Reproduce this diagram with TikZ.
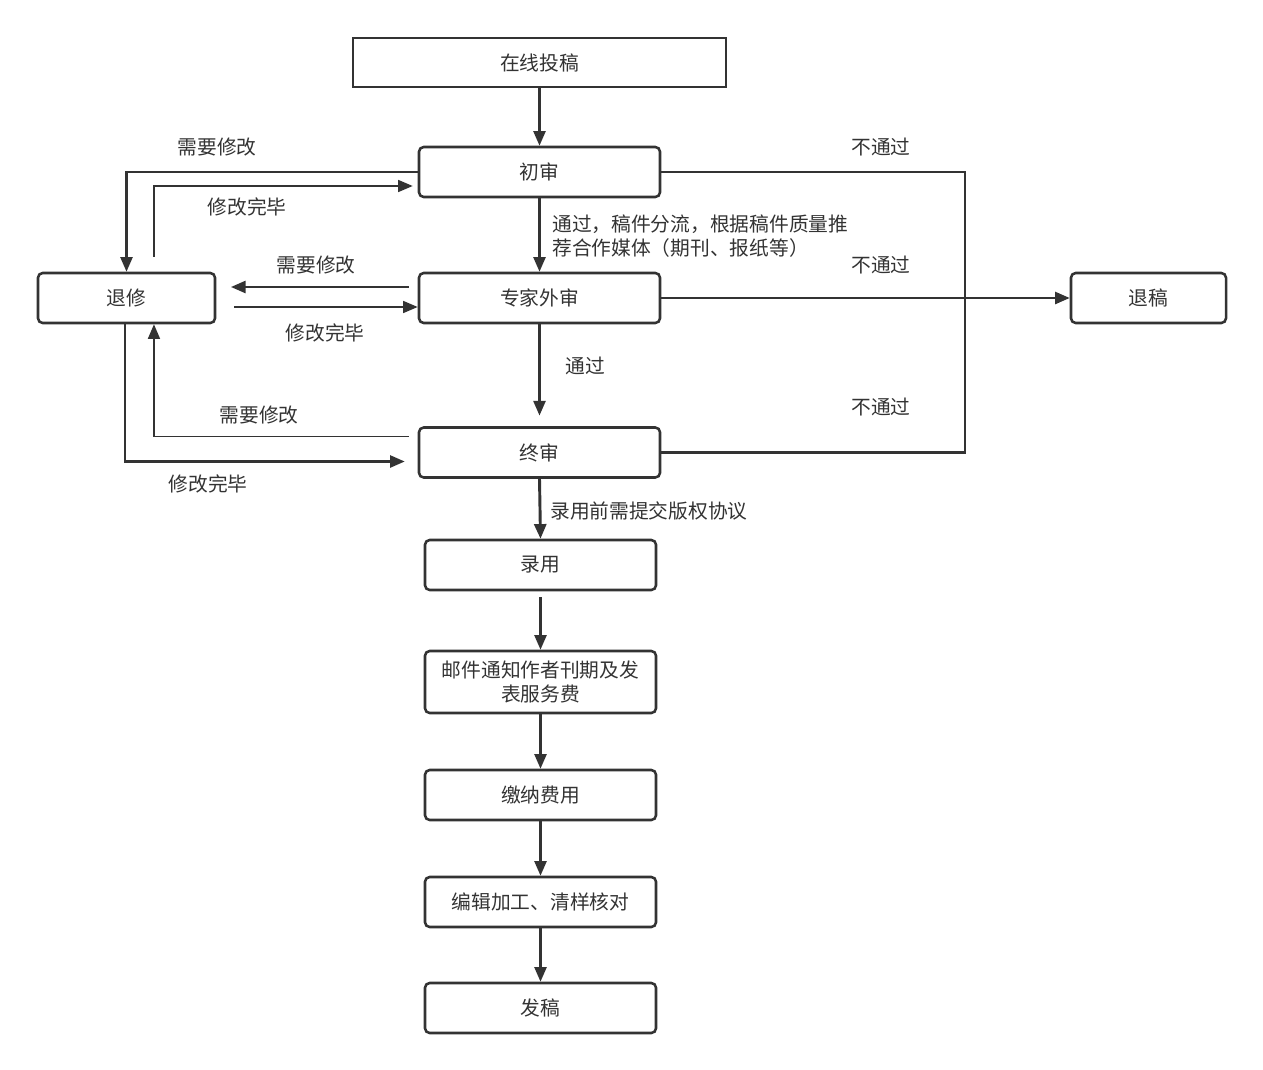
\documentclass[tikz,border=0pt]{standalone}
\usepackage{fontspec}
\setmainfont{Noto Sans CJK SC}
\usetikzlibrary{arrows.meta}
\definecolor{linegray}{HTML}{333333}
\tikzset{
  box/.style={draw=linegray, line width=1.9pt, rounded corners=3.5pt, minimum height=37.5pt, align=center, inner sep=0pt, text=linegray},
  flow/.style={draw=linegray, line width=1.9pt, -{Triangle[length=11pt,width=9pt]}},
  thinflow/.style={flow, line width=1.3pt},
  lab/.style={text=linegray, inner sep=0pt}
}

\begin{document}
\begin{tikzpicture}[x=0.75pt,y=-0.75pt, font=\fontsize{14.8}{18}\selectfont]
\useasboundingbox (0,0) rectangle (1263,1070);
% boxes
\node[box, rounded corners=0pt, minimum width=279.75pt, minimum height=36.75pt] (tougao) at (539.5,62.5) {在线投稿};
\node[box, minimum width=180.75pt] (chushen) at (539.5,172) {初审};
\node[box, minimum width=180.75pt] (zhuanjia) at (539.5,298) {专家外审};
\node[box, minimum width=180.75pt] (zhongshen) at (539.5,452.5) {终审};
\node[box, minimum width=132.75pt] (tuixiu) at (126.5,298) {退修};
\node[box, minimum width=116.25pt] (tuigao) at (1148.5,298) {退稿};
\node[box, minimum width=173.25pt] (luyong) at (540.5,565) {录用};
\node[box, minimum width=173.25pt, minimum height=46.5pt] (tongzhi) at (540.5,682) {邮件通知作者刊期及发\\表服务费};
\node[box, minimum width=173.25pt] (jiaona) at (540.5,795) {缴纳费用};
\node[box, minimum width=173.25pt] (bianji) at (540.5,902) {编辑加工、清样核对};
\node[box, minimum width=173.25pt] (fagao) at (540.5,1008) {发稿};
\coordinate (reject) at (965,172);

% main flow
\draw[flow] (tougao.south) -- (chushen.north);
\draw[flow] (chushen.south) -- (zhuanjia.north);
\draw[flow, shorten >=8pt] (zhuanjia.south) -- (zhongshen.north);
\draw[flow, line width=2.2pt] (zhongshen.south) -- (luyong.north);
\draw[flow, shorten <=4.5pt] (luyong.south) -- (tongzhi.north);
\draw[flow] (tongzhi.south) -- (jiaona.north);
\draw[flow] (jiaona.south) -- (bianji.north);
\draw[flow] (bianji.south) -- (fagao.north);

% revisions
\draw[flow] (chushen.west) -| (tuixiu.north);
\draw[thinflow, shorten <=11.25pt, shorten >=3.75pt] ([xshift=20.6pt]tuixiu.north) |- ([yshift=-10.5pt]chushen.west);
\draw[flow, shorten <=6.75pt, shorten >=11pt] ([yshift=8.25pt]zhuanjia.west) -- ([yshift=8.25pt]tuixiu.east);
\draw[thinflow, shorten <=13.5pt] ([yshift=-6.75pt]tuixiu.east) -- ([yshift=-6.75pt]zhuanjia.west);
\draw[thinflow, shorten <=6.75pt] ([yshift=12pt]zhongshen.west) -| ([xshift=20.6pt]tuixiu.south);
\draw[flow, shorten >=9.75pt] ([xshift=-1.1pt]tuixiu.south) |- ([yshift=-6.75pt]zhongshen.west);

% rejections
\draw[draw=linegray, line width=1.9pt] (chushen.east) -- (reject) |- (zhongshen.east);
\draw[flow] (zhuanjia.east) -- (tuigao.west);

% labels
\node[lab] at (217,147) {需要修改};
\node[lab] at (247,207) {修改完毕};
\node[lab] at (316,265) {需要修改};
\node[lab] at (325,333) {修改完毕};
\node[lab] at (259,415) {需要修改};
\node[lab] at (208,484) {修改完毕};
\node[lab] at (881,147) {不通过};
\node[lab] at (881,265) {不通过};
\node[lab] at (881,407) {不通过};
\node[lab] at (585,366) {通过};
\node[lab, anchor=west, align=left] at (552,236) {通过，稿件分流，根据稿件质量推\\荐合作媒体（期刊、报纸等）};
\node[lab, anchor=west] at (550,511) {录用前需提交版权协议};
\end{tikzpicture}
\end{document}
